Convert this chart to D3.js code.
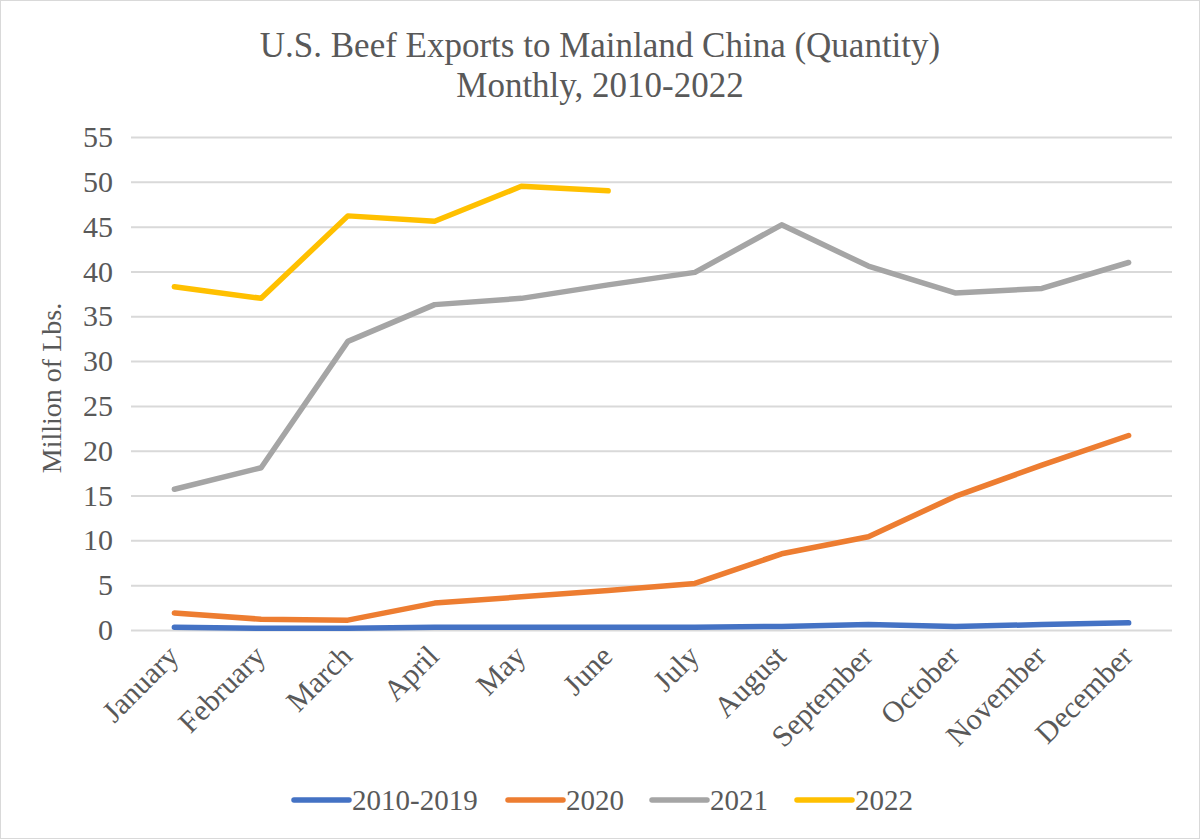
<!DOCTYPE html>
<html lang="en">
<head>
  <meta charset="UTF-8">
  <title>beef exports</title>
  <script src="https://cdn.jsdelivr.net/npm/d3@7"></script>
  <style>
    body { margin: 0; background: #fff; }
    text { font-family: "Liberation Serif", "Times New Roman", serif; fill: #595959; }
  </style>
</head>
<body>
<script>
let months = ['January', 'February', 'March', 'April', 'May', 'June',
  'July', 'August', 'September', 'October', 'November', 'December'];
let seriesNames = ['2010-2019', '2020', '2021', '2022'];
let avg2010 = [0.3, 0.2, 0.2, 0.3, 0.3, 0.3, 0.3, 0.4, 0.6, 0.4, 0.6, 0.8];
let y2020 = [1.9, 1.2, 1.1, 3.0, 3.7, 4.4, 5.2, 8.5, 10.4, 14.9, 18.4, 21.7];
let y2021 = [15.7, 18.1, 32.2, 36.3, 37.0, 38.5, 39.9, 45.2, 40.6, 37.6, 38.1, 41.0];
let y2022 = [38.3, 37.0, 46.2, 45.6, 49.5, 49.0];
let yTicks = [0, 5, 10, 15, 20, 25, 30, 35, 40, 45, 50, 55];
let colors = ['#4472C4', '#ED7D31', '#A5A5A5', '#FFC000'];

let width = 1201;
let height = 840;
let plot = { left: 131, right: 1172, top: 137, bottom: 630 };

let svg = d3.select('body')
  .append('svg')
  .attr('width', width)
  .attr('height', height);

svg.append('rect')
  .attr('x', 0.5).attr('y', 0.5)
  .attr('width', width - 2).attr('height', height - 2)
  .attr('fill', '#fff')
  .attr('stroke', '#d9d9d9');

let x = d3.scaleBand()
  .domain(months)
  .range([plot.left, plot.right]);

let y = d3.scaleLinear()
  .domain([0, 55])
  .range([plot.bottom, plot.top]);

// gridlines + value labels
let yAxis = d3.axisLeft(y)
  .tickValues(yTicks)
  .tickSize(-(plot.right - plot.left))
  .tickPadding(18);

let gy = svg.append('g')
  .attr('transform', 'translate(' + plot.left + ',0)')
  .call(yAxis);
gy.select('.domain').remove();
gy.selectAll('line').attr('stroke', '#d9d9d9').attr('stroke-width', 2);
gy.selectAll('text')
  .style('font-size', '30px')
  .attr('fill', '#595959');

// month labels
let xAxis = d3.axisBottom(x).tickSize(0).tickPadding(0);
let gx = svg.append('g')
  .attr('transform', 'translate(0,' + plot.bottom + ')')
  .call(xAxis);
gx.select('.domain').remove();
gx.selectAll('text')
  .style('font-size', '30px')
  .attr('fill', '#595959')
  .attr('text-anchor', 'end')
  .attr('dy', null)
  .attr('y', 0)
  .attr('transform', 'translate(6,28) rotate(-45)');

let allSeries = [avg2010, y2020, y2021, y2022];

let line = d3.line()
  .x((d, i) => x(months[i]) + x.bandwidth() / 2)
  .y(d => y(d));

svg.append('g')
  .selectAll('path')
  .data(allSeries)
  .join('path')
  .attr('d', line)
  .attr('fill', 'none')
  .attr('stroke', (d, i) => colors[i])
  .attr('stroke-width', 5.5)
  .attr('stroke-linecap', 'round')
  .attr('stroke-linejoin', 'round');

// title
let title = svg.append('text')
  .attr('text-anchor', 'middle')
  .style('font-size', '35px');
title.append('tspan').attr('x', 600).attr('y', 57)
  .text('U.S. Beef Exports to Mainland China (Quantity)');
title.append('tspan').attr('x', 600).attr('y', 97)
  .text('Monthly, 2010-2022');

svg.append('text')
  .attr('transform', 'translate(61,388) rotate(-90)')
  .attr('text-anchor', 'middle')
  .style('font-size', '28px')
  .text('Million of Lbs.');

// legend
let legendX = [294, 508, 652, 797];
let legend = svg.append('g')
  .selectAll('g')
  .data(seriesNames)
  .join('g')
  .attr('transform', (d, i) => 'translate(' + legendX[i] + ',800)');
legend.append('line')
  .attr('x1', 0).attr('x2', 55)
  .attr('stroke', (d, i) => colors[i])
  .attr('stroke-width', 5.5)
  .attr('stroke-linecap', 'round');
legend.append('text')
  .attr('x', 58)
  .attr('y', 10)
  .style('font-size', '29px')
  .text(d => d);
</script>
</body>
</html>
